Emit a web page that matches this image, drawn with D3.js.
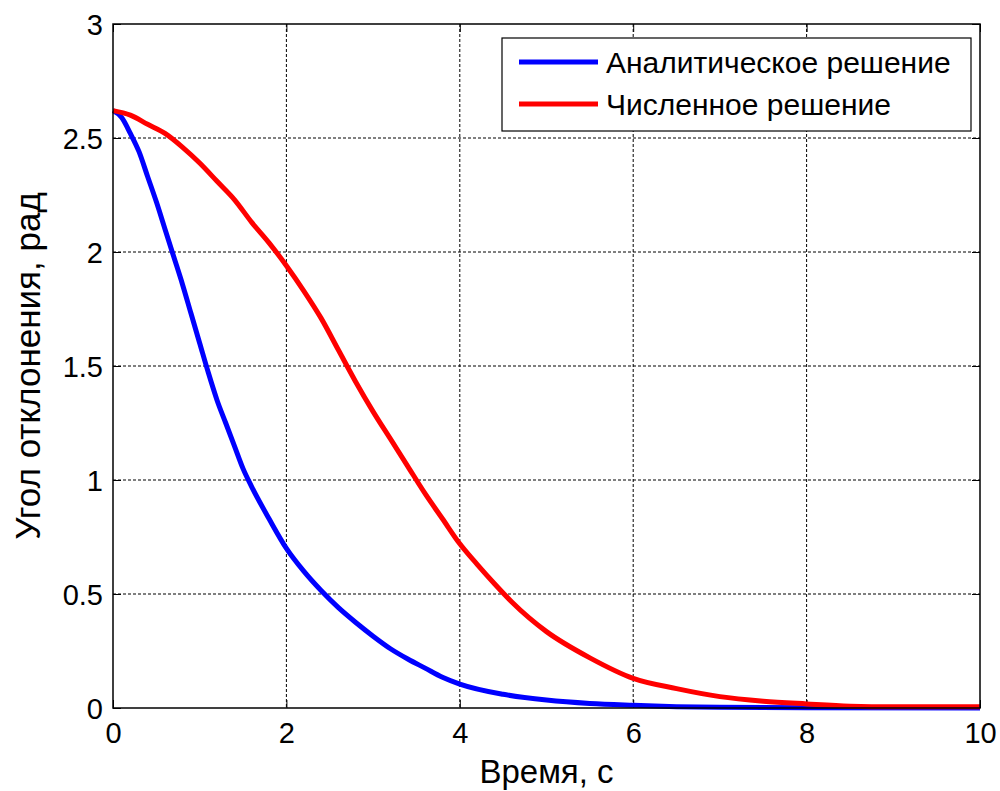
<!DOCTYPE html>
<html>
<head>
<meta charset="utf-8">
<script src="https://cdn.jsdelivr.net/npm/d3@7"></script>
<style>
  body { margin: 0; background: #fff; }
  svg { display: block; font-family: "Liberation Sans", Arial, sans-serif; }
</style>
</head>
<body>
<div id="chart"></div>
<script>
// Time (s) and deflection angle (rad)
const analyticT = [0, 0.1, 0.2, 0.3, 0.4, 0.5, 0.6, 0.7, 0.8, 0.9, 1.0, 1.1, 1.2, 1.3, 1.4, 1.5, 1.6, 1.8,
  2.0, 2.2, 2.4, 2.6, 2.8, 3.0, 3.2, 3.4, 3.6, 3.8, 4.0, 4.5, 5.0, 5.5, 6.0, 6.5, 7.0, 8.0, 10];
const analyticY = [2.62, 2.59, 2.52, 2.44, 2.33, 2.22, 2.10, 1.98, 1.86, 1.73, 1.60, 1.47, 1.35, 1.25, 1.15, 1.05, 0.97, 0.83,
  0.70, 0.60, 0.515, 0.44, 0.375, 0.315, 0.26, 0.215, 0.175, 0.135, 0.105, 0.06, 0.035, 0.02, 0.012, 0.006, 0.003, 0.001, 0];

const numericT = [0, 0.2, 0.4, 0.6, 0.8, 1.0, 1.2, 1.4, 1.6, 1.8, 2.0, 2.2, 2.4, 2.6, 2.8, 3.0, 3.2, 3.4, 3.6, 3.8,
  4.0, 4.2, 4.4, 4.6, 4.8, 5.0, 5.5, 6.0, 6.5, 7.0, 7.5, 8.0, 8.5, 9.0, 10];
const numericY = [2.62, 2.60, 2.56, 2.52, 2.46, 2.39, 2.31, 2.23, 2.13, 2.04, 1.94, 1.83, 1.71, 1.57, 1.43, 1.30, 1.18, 1.06, 0.94, 0.83,
  0.72, 0.63, 0.545, 0.465, 0.395, 0.335, 0.22, 0.13, 0.085, 0.05, 0.03, 0.018, 0.008, 0.005, 0.005];

const xTicks = [0, 2, 4, 6, 8, 10];
const yTicks = [0, 0.5, 1, 1.5, 2, 2.5, 3];
const seriesNames = ['Аналитическое решение', 'Численное решение'];
const seriesColors = ['#0000ff', '#ff0000'];

const width = 1000;
const height = 791;
const margin = { top: 24, right: 20, bottom: 83, left: 113 };
const innerWidth = width - margin.left - margin.right;
const innerHeight = height - margin.top - margin.bottom;

const svg = d3.select('#chart').append('svg').attr('width', width).attr('height', height);
const g = svg.append('g').attr('transform', `translate(${margin.left},${margin.top})`);

const x = d3.scaleLinear().domain([0, 10]).range([0, innerWidth]);
const y = d3.scaleLinear().domain([0, 3]).range([innerHeight, 0]);

// Grid
g.selectAll('.vgrid').data(xTicks.slice(1, -1)).join('line')
  .attr('x1', d => x(d)).attr('x2', d => x(d))
  .attr('y1', 0).attr('y2', innerHeight)
  .attr('stroke', '#000').attr('stroke-width', 1).attr('stroke-dasharray', '3,2');
g.selectAll('.hgrid').data(yTicks.slice(1, -1)).join('line')
  .attr('x1', 0).attr('x2', innerWidth)
  .attr('y1', d => y(d)).attr('y2', d => y(d))
  .attr('stroke', '#000').attr('stroke-width', 1).attr('stroke-dasharray', '3,2');

// Axes (inward ticks, labels outside)
const xAxis = g.append('g').attr('transform', `translate(0,${innerHeight})`)
  .call(d3.axisBottom(x).tickValues(xTicks).tickSizeInner(-8).tickSizeOuter(0).tickPadding(14).tickFormat(d3.format('d')));
const yAxis = g.append('g')
  .call(d3.axisLeft(y).tickValues(yTicks).tickSizeInner(-8).tickSizeOuter(0).tickPadding(10).tickFormat(d => String(d)));
const topAxis = g.append('g').call(d3.axisTop(x).tickValues(xTicks).tickSizeInner(-8).tickSizeOuter(0));
const rightAxis = g.append('g').attr('transform', `translate(${innerWidth},0)`)
  .call(d3.axisRight(y).tickValues(yTicks).tickSizeInner(-8).tickSizeOuter(0));
topAxis.selectAll('text').remove();
rightAxis.selectAll('text').remove();
g.selectAll('.domain').remove();
g.selectAll('.tick line').attr('stroke', '#000');
[xAxis, yAxis].forEach(a => a.selectAll('text')
  .attr('font-size', 29).attr('fill', '#000').attr('font-family', '"Liberation Sans", Arial, sans-serif'));
yAxis.selectAll('text').attr('dy', '0.36em');

// Lines
const line = d3.line().x(d => x(d[0])).y(d => y(d[1])).curve(d3.curveMonotoneX);
const series = [d3.zip(analyticT, analyticY), d3.zip(numericT, numericY)];
series.forEach((s, i) => {
  g.append('path').datum(s).attr('d', line)
    .attr('fill', 'none').attr('stroke', seriesColors[i]).attr('stroke-width', 5)
    .attr('stroke-linejoin', 'round');
});

// Box
g.append('rect').attr('width', innerWidth).attr('height', innerHeight)
  .attr('fill', 'none').attr('stroke', '#000').attr('stroke-width', 1.5);

// Legend
const legend = svg.append('g');
legend.append('rect').attr('x', 502).attr('y', 38).attr('width', 469).attr('height', 93)
  .attr('fill', '#fff').attr('stroke', '#000').attr('stroke-width', 1.2);
seriesNames.forEach((name, i) => {
  const ly = 62 + i * 42;
  legend.append('line').attr('x1', 519).attr('x2', 598).attr('y1', ly).attr('y2', ly)
    .attr('stroke', seriesColors[i]).attr('stroke-width', 5);
  legend.append('text').attr('x', 606).attr('y', ly).attr('dy', '0.36em')
    .attr('font-size', 30).attr('fill', '#000').text(name);
});

// Axis labels
svg.append('text').attr('x', margin.left + innerWidth / 2).attr('y', 783)
  .attr('text-anchor', 'middle').attr('font-size', 33).text('Время, с');
svg.append('text').attr('transform', 'rotate(-90)')
  .attr('x', -(margin.top + innerHeight / 2)).attr('y', 40)
  .attr('text-anchor', 'middle').attr('font-size', 35).text('Угол отклонения, рад');
</script>
</body>
</html>
